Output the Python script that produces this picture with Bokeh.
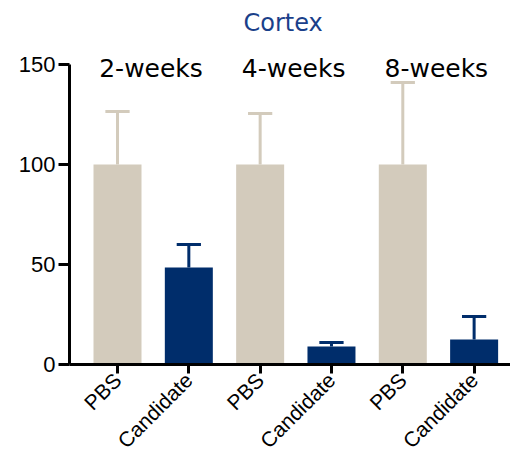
import math
from bokeh.plotting import figure
from bokeh.models import Range1d, FixedTicker, ColumnDataSource
from bokeh.core.properties import value
from bokeh.embed import file_html
from bokeh.resources import INLINE

# ---- data ----
categories = ["PBS", "Candidate", "PBS", "Candidate", "PBS", "Candidate"]
groups = ["2-weeks", "4-weeks", "8-weeks"]
means = [100, 48.5, 100, 9, 100, 12.5]
upper = [126.5, 60, 125.5, 11, 141, 24]
y_ticks = [0, 50, 100, 150]

PBS_COLOR = "#d3cbbc"
CAND_COLOR = "#002d6b"
colors = [PBS_COLOR if c == "PBS" else CAND_COLOR for c in categories]

xs = list(range(len(categories)))
bar_w = 0.673
cap_w = 0.34

p = figure(width=510, height=463, output_backend="svg", toolbar_location=None,
           x_range=Range1d(-0.673, 5.51), y_range=Range1d(0, 162),
           min_border_left=69, min_border_right=0, min_border_bottom=99, min_border_top=40)

p.title.text = "Cortex"
p.title.align = "left"
p.title.offset = 174
p.title.text_font = "DejaVu Sans"
p.title.text_font_size = "24px"
p.title.text_font_style = "normal"
p.title.text_color = "#1a3f8a"
p.title.standoff = 7

p.outline_line_color = None
p.grid.visible = False
p.background_fill_color = None
p.border_fill_color = "white"

src = ColumnDataSource(dict(x=xs, top=means, upper=upper, color=colors,
                            x0=[x - cap_w / 2 for x in xs], x1=[x + cap_w / 2 for x in xs]))

# error bars (upper only)
p.segment(x0="x", y0="top", x1="x", y1="upper", line_color="color", line_width=3, source=src)
p.segment(x0="x0", y0="upper", x1="x1", y1="upper", line_color="color", line_width=3, source=src)
p.vbar(x="x", top="top", bottom=0, width=bar_w, fill_color="color", line_color=None, source=src)

# group labels
gx = [(xs[2 * i] + xs[2 * i + 1]) / 2 - 0.03 for i in range(len(groups))]
p.text(x=gx, y=[148] * len(groups), text=groups, text_font=value("DejaVu Sans"),
       text_font_size="25px", text_align="center", text_baseline="alphabetic", text_color="black")

# axes
p.yaxis.bounds = (0, 150)
p.yaxis.ticker = FixedTicker(ticks=y_ticks)
p.yaxis.minor_tick_line_color = None
p.yaxis.major_tick_in = 0
p.yaxis.major_tick_out = 11
p.yaxis.axis_line_width = 3
p.yaxis.major_tick_line_width = 3
p.yaxis.major_label_text_font = "Liberation Sans"
p.yaxis.major_label_text_font_size = "22px"
p.yaxis.major_label_text_color = "black"
p.yaxis.major_label_standoff = 3

p.xaxis.ticker = FixedTicker(ticks=xs)
p.xaxis.major_label_overrides = {x: c for x, c in zip(xs, categories)}
p.xaxis.minor_tick_line_color = None
p.xaxis.major_tick_in = 0
p.xaxis.major_tick_out = 9
p.xaxis.axis_line_width = 3
p.xaxis.major_tick_line_width = 3
p.xaxis.major_label_orientation = math.pi / 4
p.xaxis.major_label_text_font = "Liberation Sans"
p.xaxis.major_label_text_font_size = "21px"
p.xaxis.major_label_text_color = "black"
p.xaxis.major_label_standoff = 3

open("out.html", "w").write(file_html(p, INLINE))
